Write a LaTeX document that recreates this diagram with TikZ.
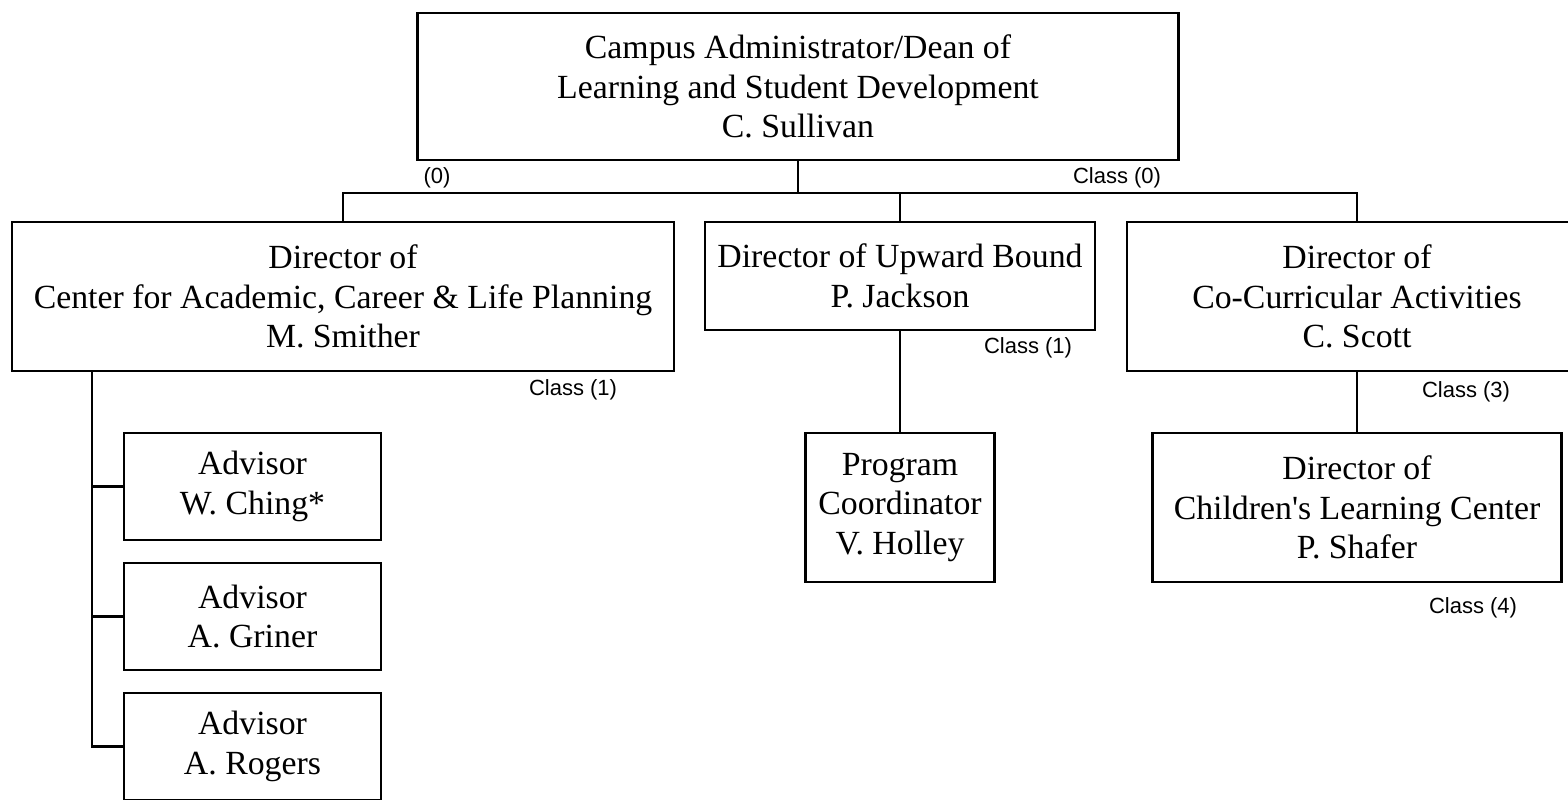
\documentclass[tikz,border=0pt]{standalone}
\usepackage{fontspec}
\setmainfont{Liberation Serif}
\newfontfamily\tagfont{Liberation Sans}
\tikzset{
  post/.style={draw, line width=1.2pt, align=center, inner sep=0pt,
    font=\fontsize{16.9}{19.7}\selectfont},
  dims/.style 2 args={minimum width=#1*0.5pt, minimum height=#2*0.5pt},
  tag/.style={font=\tagfont\fontsize{11}{12}\selectfont, inner sep=0pt},
  wire/.style={line width=1.2pt},
}

\begin{document}
\begin{tikzpicture}[x=0.5pt, y=-0.5pt]
\path[use as bounding box, clip] (0,0) rectangle (1568,799);

%% ---- dean ---------------------------------------------------------------
\node[post, dims={761}{147}] (dean) at (798,86.5)
  {Campus Administrator/Dean of\\Learning and Student Development\\C. Sullivan};

%% ---- directors ----------------------------------------------------------
\node[post, dims={662}{149}] (smither) at (343,296.5)
  {Director of\\Center for Academic, Career \& Life Planning\\M. Smither};
\node[post, dims={390}{108}] (jackson) at (900,276)
  {Director of Upward Bound\\P. Jackson};
\node[post, dims={460}{149}] (scott) at (1357,296.5)
  {Director of\\Co-Curricular Activities\\C. Scott};

\draw[wire] (dean.south) -- ++(0,32) coordinate (bus);
\draw[wire] (smither.north) |- (bus) -| (scott.north);
\draw[wire] (jackson.north) -- (jackson.north |- bus);

%% ---- staff under the directors -----------------------------------------
\foreach \n/\who/\y in {ching/W. Ching*/486.5, griner/A. Griner/616.5,
    rogers/A. Rogers/746.5}
  \node[post, dims={257}{107}] (\n) at (252.5,\y) {Advisor\\\who};
\node[post, dims={189}{149}] (holley) at (900,507.5)
  {Program\\Coordinator\\V. Holley};
\node[post, dims={409}{149}] (shafer) at (1357,507.5)
  {Director of\\Children\textquotesingle s Learning Center\\P. Shafer};

% advisors hang off a trunk near the left edge of the center box
\draw[wire] ([shift={(81,0)}]smither.south west) coordinate (trunk) |- (rogers.west);
\foreach \n in {ching, griner}
  \draw[wire] (\n.west) -- (\n.west -| trunk);
\draw[wire] (jackson.south) -- (holley.north);
\draw[wire] (scott.south) -- (shafer.north);

%% ---- class tags ---------------------------------------------------------
\node[tag] (t0a) at (437,178) {(0)};
\node[tag] (t0b) at (1117,178) {Class (0)};
\node[tag] (t1a) at (573,390) {Class (1)};
\node[tag] (t1b) at (1028,348) {Class (1)};
\node[tag] (t3) at (1466,392) {Class (3)};
\node[tag] (t4) at (1473,608) {Class (4)};

\end{tikzpicture}
\end{document}
